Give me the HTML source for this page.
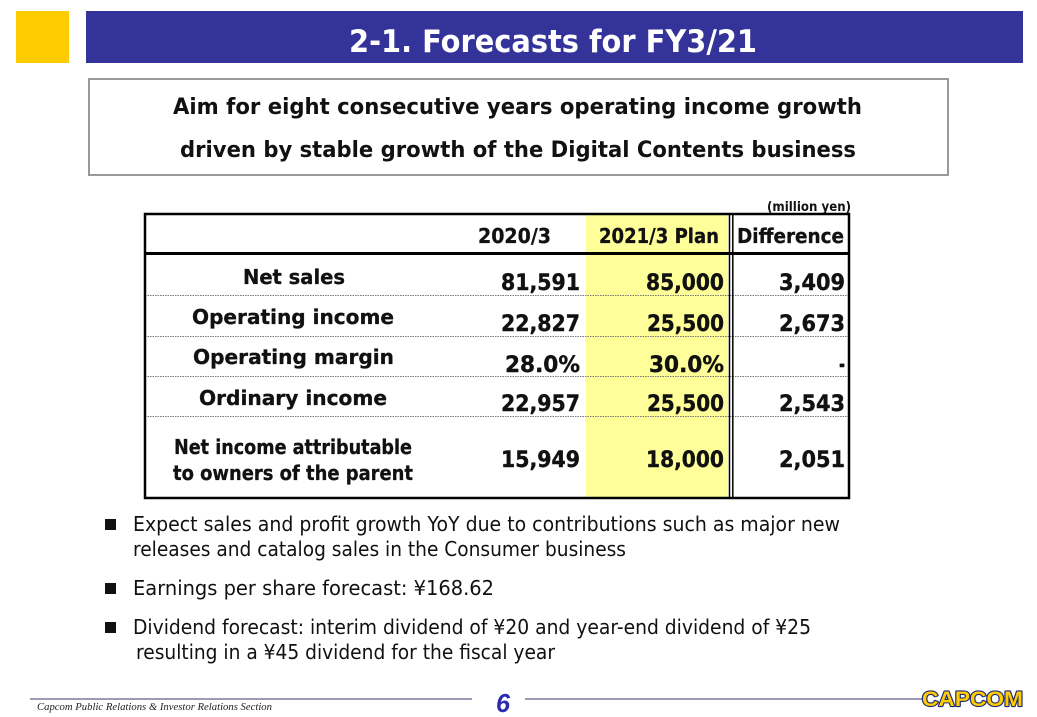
<!DOCTYPE html>
<html><head><meta charset="utf-8">
<style>
html,body{margin:0;padding:0;background:#fff;}
svg{display:block;}
.b{font-family:"DejaVu Sans","Liberation Sans",sans-serif;font-weight:bold;}
.r{font-family:"DejaVu Sans","Liberation Sans",sans-serif;}
</style></head>
<body>
<svg width="1037" height="717" viewBox="0 0 1037 717" xmlns="http://www.w3.org/2000/svg">
<rect x="0" y="0" width="1037" height="717" fill="#fff"/>
<!-- header -->
<rect x="16" y="11" width="53" height="52" fill="#FFCC00"/>
<rect x="86" y="11" width="937" height="52" fill="#333399"/>
<text class="b" x="349" y="52" font-size="31" fill="#fff" textLength="408" lengthAdjust="spacingAndGlyphs">2-1. Forecasts for FY3/21</text>

<!-- box -->
<rect x="89" y="79" width="859" height="96" fill="#fff" stroke="#999" stroke-width="2"/>
<text class="b" x="173" y="114" font-size="22" fill="#111" textLength="689" lengthAdjust="spacingAndGlyphs">Aim for eight consecutive years operating income growth</text>
<text class="b" x="180" y="157" font-size="22" fill="#111" textLength="676" lengthAdjust="spacingAndGlyphs">driven by stable growth of the Digital Contents business</text>

<!-- table -->
<text class="b" x="767" y="211" font-size="13" fill="#111" textLength="84" lengthAdjust="spacingAndGlyphs">(million yen)</text>
<rect x="586" y="214" width="142" height="284" fill="#FFFF99"/>
<g stroke="#777" stroke-width="1" stroke-dasharray="1.5,1">
<line x1="145" y1="295.5" x2="849" y2="295.5"/>
<line x1="145" y1="336.5" x2="849" y2="336.5"/>
<line x1="145" y1="376.5" x2="849" y2="376.5"/>
<line x1="145" y1="416.5" x2="849" y2="416.5"/>
</g>
<line x1="144" y1="253.5" x2="850" y2="253.5" stroke="#000" stroke-width="3"/>
<line x1="729.5" y1="214" x2="729.5" y2="498" stroke="#000" stroke-width="1.5"/>
<line x1="732.8" y1="214" x2="732.8" y2="498" stroke="#000" stroke-width="1.5"/>
<rect x="145" y="214" width="704" height="284" fill="none" stroke="#000" stroke-width="2.5"/>

<g class="b" font-size="20" fill="#111" stroke="#111" stroke-width="0.3">
<text x="478" y="243" textLength="73" lengthAdjust="spacingAndGlyphs">2020/3</text>
<text x="599" y="243" textLength="120" lengthAdjust="spacingAndGlyphs">2021/3 Plan</text>
<text x="737" y="243" textLength="107" lengthAdjust="spacingAndGlyphs">Difference</text>

<text x="243" y="284" textLength="102" lengthAdjust="spacingAndGlyphs">Net sales</text>
<text x="192" y="324" textLength="202" lengthAdjust="spacingAndGlyphs">Operating income</text>
<text x="193" y="364" textLength="201" lengthAdjust="spacingAndGlyphs">Operating margin</text>
<text x="199" y="405" textLength="188" lengthAdjust="spacingAndGlyphs">Ordinary income</text>
<text x="174" y="454" textLength="238" lengthAdjust="spacingAndGlyphs">Net income attributable</text>
<text x="173" y="480" textLength="240" lengthAdjust="spacingAndGlyphs">to owners of the parent</text>
</g>
<g class="b" font-size="22" fill="#111" stroke="#111" stroke-width="0.4">
<text x="501" y="290" textLength="79" lengthAdjust="spacingAndGlyphs">81,591</text>
<text x="646" y="290" textLength="78" lengthAdjust="spacingAndGlyphs">85,000</text>
<text x="779" y="290" textLength="66" lengthAdjust="spacingAndGlyphs">3,409</text>

<text x="501" y="331" textLength="79" lengthAdjust="spacingAndGlyphs">22,827</text>
<text x="647" y="331" textLength="77" lengthAdjust="spacingAndGlyphs">25,500</text>
<text x="779" y="331" textLength="66" lengthAdjust="spacingAndGlyphs">2,673</text>

<text x="505" y="372" textLength="75" lengthAdjust="spacingAndGlyphs">28.0%</text>
<text x="649" y="372" textLength="75" lengthAdjust="spacingAndGlyphs">30.0%</text>
<text x="839" y="372" textLength="6" lengthAdjust="spacingAndGlyphs">-</text>

<text x="501" y="411" textLength="79" lengthAdjust="spacingAndGlyphs">22,957</text>
<text x="647" y="411" textLength="77" lengthAdjust="spacingAndGlyphs">25,500</text>
<text x="779" y="411" textLength="66" lengthAdjust="spacingAndGlyphs">2,543</text>

<text x="501" y="467" textLength="79" lengthAdjust="spacingAndGlyphs">15,949</text>
<text x="646" y="467" textLength="78" lengthAdjust="spacingAndGlyphs">18,000</text>
<text x="779" y="467" textLength="66" lengthAdjust="spacingAndGlyphs">2,051</text>
</g>

<!-- bullets -->
<rect x="105" y="519" width="11" height="11" fill="#111"/>
<rect x="105" y="583" width="11" height="11" fill="#111"/>
<rect x="105" y="622" width="11" height="11" fill="#111"/>
<g class="r" font-size="20" fill="#111">
<text x="133" y="531" textLength="707" lengthAdjust="spacingAndGlyphs">Expect sales and profit growth YoY due to contributions such as major new</text>
<text x="133" y="556" textLength="493" lengthAdjust="spacingAndGlyphs">releases and catalog sales in the Consumer business</text>
<text x="133" y="595" textLength="361" lengthAdjust="spacingAndGlyphs">Earnings per share forecast: ¥168.62</text>
<text x="133" y="634" textLength="678" lengthAdjust="spacingAndGlyphs">Dividend forecast: interim dividend of ¥20 and year-end dividend of ¥25</text>
<text x="136" y="659" textLength="419" lengthAdjust="spacingAndGlyphs">resulting in a ¥45 dividend for the fiscal year</text>
</g>

<!-- footer -->
<line x1="30" y1="699" x2="472" y2="699" stroke="#9b9bb8" stroke-width="2"/>
<line x1="525" y1="699" x2="925" y2="699" stroke="#9b9bb8" stroke-width="2"/>
<text x="496" y="712" font-family="Liberation Sans, sans-serif" font-weight="bold" font-style="italic" font-size="26" fill="#2b2bb0" textLength="14" lengthAdjust="spacingAndGlyphs">6</text>
<text x="37" y="710" font-family="Liberation Serif, serif" font-style="italic" font-size="10.5" fill="#222" textLength="235" lengthAdjust="spacingAndGlyphs">Capcom Public Relations &amp; Investor Relations Section</text>
<text x="922" y="706" font-family="Liberation Sans, sans-serif" font-weight="bold" font-size="21" fill="#FFCC00" stroke="#1c2a78" stroke-width="2.2" paint-order="stroke" stroke-linejoin="round" textLength="101" lengthAdjust="spacingAndGlyphs">CAPCOM</text>
</svg>
</body></html>
